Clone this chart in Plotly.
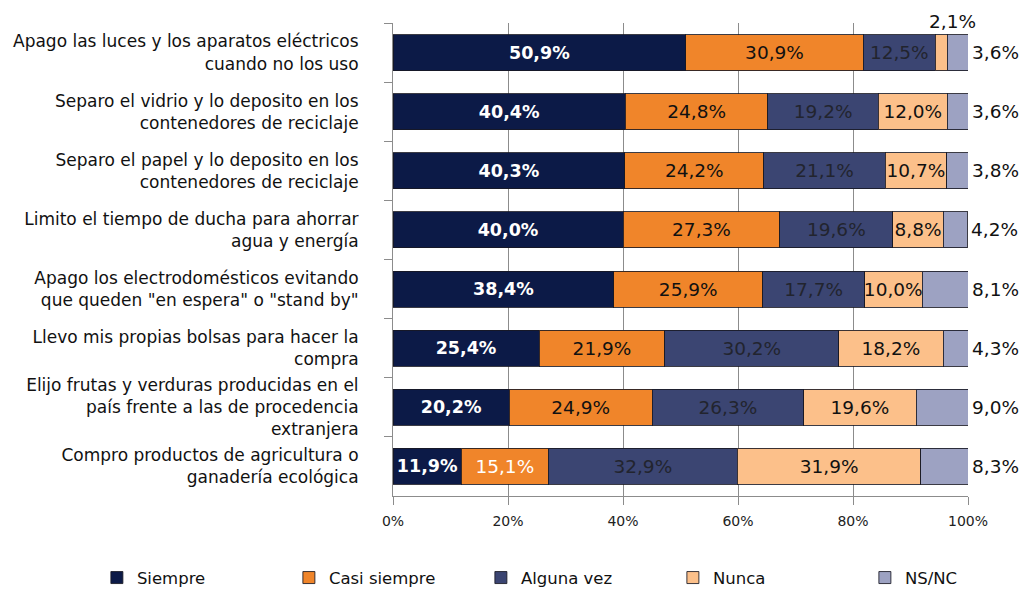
import plotly.graph_objects as go

categories = [
    "Apago las luces y los aparatos eléctricos<br>cuando no los uso",
    "Separo el vidrio y lo deposito en los<br>contenedores de reciclaje",
    "Separo el papel y lo deposito en los<br>contenedores de reciclaje",
    "Limito el tiempo de ducha para ahorrar<br>agua y energía",
    "Apago los electrodomésticos evitando<br>que queden \"en espera\" o \"stand by\"",
    "Llevo mis propias bolsas para hacer la<br>compra",
    "Elijo frutas y verduras producidas en el<br>país frente a las de procedencia<br>extranjera",
    "Compro productos de agricultura o<br>ganadería ecológica",
]

siempre = [50.9, 40.4, 40.3, 40.0, 38.4, 25.4, 20.2, 11.9]
casi_siempre = [30.9, 24.8, 24.2, 27.3, 25.9, 21.9, 24.9, 15.1]
alguna_vez = [12.5, 19.2, 21.1, 19.6, 17.7, 30.2, 26.3, 32.9]
nunca = [2.1, 12.0, 10.7, 8.8, 10.0, 18.2, 19.6, 31.9]
ns_nc = [3.6, 3.6, 3.8, 4.2, 8.1, 4.3, 9.0, 8.3]

series_names = ["Siempre", "Casi siempre", "Alguna vez", "Nunca", "NS/NC"]
colors = ["#0c1a47", "#f0852a", "#3b4572", "#fcc08a", "#9da2c2"]

x_ticks = [0, 20, 40, 60, 80, 100]
x_ticklabels = ["0%", "20%", "40%", "60%", "80%", "100%"]

FONT = "DejaVu Sans"


def fmt(v):
    return f"{v:.1f}".replace(".", ",") + "%"


fig = go.Figure()

all_series = [siempre, casi_siempre, alguna_vez, nunca, ns_nc]
for i, (name, vals, col) in enumerate(zip(series_names, all_series, colors)):
    texts = [fmt(v) for v in vals]
    if i == 0:
        tfont = dict(family=FONT, size=17.5, color="white", weight="bold")
    elif i == 1:
        tcolors = ["#111111"] * len(vals)
        tcolors[-1] = "white"
        tfont = dict(family=FONT, size=18.5, color=tcolors)
    elif i == 2:
        tfont = dict(family=FONT, size=18.5, color="#22242e")
    elif i == 3:
        texts[0] = ""
        tfont = dict(family=FONT, size=18.5, color="#111111")
    else:
        texts = [""] * len(vals)
        tfont = dict(family=FONT, size=18.5, color="#111111")

    fig.add_trace(go.Bar(
        y=categories,
        x=vals,
        name=name,
        orientation="h",
        marker=dict(color=col, line=dict(color="rgba(25,25,35,0.85)", width=1)),
        text=texts,
        textposition="inside",
        insidetextanchor="middle",
        textangle=0,
        textfont=tfont,
        constraintext="none",
        cliponaxis=False,
        hoverinfo="skip",
    ))

# small "Nunca" value of first row shown above its segment
fig.add_annotation(
    x=siempre[0] + casi_siempre[0] + alguna_vez[0] + nunca[0] / 2,
    y=categories[0],
    text=fmt(nunca[0]),
    showarrow=False,
    yshift=31,
    xshift=11,
    font=dict(family=FONT, size=18.5, color="#111111"),
)

# NS/NC values written to the right of each bar
for cat, a, b, c, d, e in zip(categories, siempre, casi_siempre, alguna_vez, nunca, ns_nc):
    fig.add_annotation(
        x=min(a + b + c + d + e, 100),
        y=cat,
        text=fmt(e),
        showarrow=False,
        xanchor="left",
        xshift=2,
        font=dict(family=FONT, size=18.5, color="#111111"),
    )

fig.update_layout(
    width=1019,
    height=582,
    barmode="stack",
    bargap=0.39,
    plot_bgcolor="white",
    paper_bgcolor="white",
    margin=dict(l=385, r=59, t=15, b=94, autoexpand=False),
    font=dict(family=FONT, size=15, color="#111111"),
    legend=dict(
        orientation="h",
        x=-0.515,
        xanchor="left",
        y=-0.173,
        yanchor="middle",
        font=dict(family=FONT, size=16.5, color="#111111"),
        entrywidth=147,
        entrywidthmode="pixels",
        itemclick=False,
        traceorder="normal",
    ),
    xaxis=dict(
        range=[0, 100],
        tickvals=x_ticks,
        ticktext=x_ticklabels,
        showgrid=True,
        gridcolor="#8c8c8c",
        gridwidth=1,
        showline=True,
        linecolor="#8c8c8c",
        linewidth=1,
        ticks="outside",
        ticklen=8,
        tickcolor="#8c8c8c",
        tickfont=dict(family=FONT, size=14, color="#222222"),
        ticklabelstandoff=4,
        zeroline=False,
        fixedrange=True,
    ),
    yaxis=dict(
        autorange="reversed",
        showline=True,
        linecolor="#8c8c8c",
        linewidth=1,
        ticks="outside",
        tickson="boundaries",
        ticklen=8,
        tickcolor="#8c8c8c",
        ticklabelstandoff=30,
        tickfont=dict(family=FONT, size=17, color="#111111"),
        showgrid=False,
        fixedrange=True,
    ),
)

fig.write_html("out.html")
